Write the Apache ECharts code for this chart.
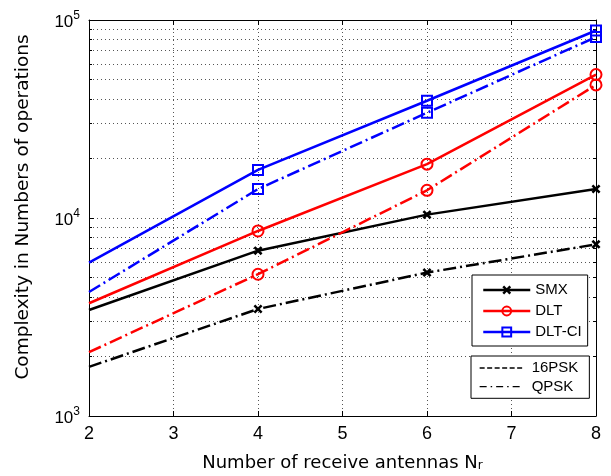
<!DOCTYPE html>
<html><head><meta charset="utf-8">
<script src="https://cdn.jsdelivr.net/npm/echarts@6/dist/echarts.min.js"></script>
<style>html,body{margin:0;padding:0;background:#fff}#c{width:611px;height:476px}</style>
</head><body><div id="c"></div>
<script>
// ---- data ----
const antennas = [2, 4, 6, 8];
const smx16 = [3430, 6840, 10400, 14000];
const smxQpsk = [1770, 3470, 5300, 7360];
const dlt16 = [3710, 8600, 18700, 53000];
const dltQpsk = [2100, 5200, 13800, 47000];
const dltci16 = [5950, 17500, 39100, 88500];
const dltciQpsk = [4230, 14000, 34000, 82000];
const xTicks = [2, 3, 4, 5, 6, 7, 8];
const yMinor = [2000, 3000, 4000, 5000, 6000, 7000, 8000, 9000, 10000,
                20000, 30000, 40000, 50000, 60000, 70000, 80000, 90000];
const schemeNames = ['SMX', 'DLT', 'DLT-CI'];
const modNames = ['16PSK', 'QPSK'];

const chart = echarts.init(document.getElementById('c'), null, {renderer: 'canvas'});
const SANS = 'Liberation Sans, Arial, Helvetica, sans-serif';
const TITLE = 'DejaVu Sans, sans-serif';
const GRID = {show: true, lineStyle: {color: '#555', width: 1, type: [1, 3]}};
const DASHDOT = [13, 4, 2, 4];
const X_PATH = 'path://M0,2L2,0L5,3L8,0L10,2L7,5L10,8L8,10L5,7L2,10L0,8L3,5Z';

function makeSeries(name, values, color, symbol, size, fill, dashed) {
  return {
    name: name, type: 'line', xAxisIndex: 0, yAxisIndex: 0,
    data: antennas.map((x, i) => ({value: [x, values[i]], symbol: i === 0 ? 'none' : symbol})),
    symbol: symbol, symbolSize: size, showSymbol: true, clip: false,
    silent: true, emphasis: {disabled: true}, animation: false,
    lineStyle: {color: color, width: 2.5, type: dashed ? DASHDOT : 'solid'},
    itemStyle: {color: fill, borderColor: color, borderWidth: fill === color ? 0 : 2}
  };
}
const clear = 'rgba(255,255,255,0)';
const series = [
  makeSeries(schemeNames[0], smx16, '#000000', X_PATH, 9, '#000000', false),
  makeSeries(schemeNames[1], dlt16, '#ff0000', 'circle', 11, clear, false),
  makeSeries(schemeNames[2], dltci16, '#0000ff', 'rect', 10, clear, false),
  makeSeries('SMX QPSK', smxQpsk, '#000000', X_PATH, 9, '#000000', true),
  makeSeries('DLT QPSK', dltQpsk, '#ff0000', 'circle', 11, clear, true),
  makeSeries('DLT-CI QPSK', dltciQpsk, '#0000ff', 'rect', 10, clear, true),
  {name: modNames[0], type: 'line', data: [], symbol: 'circle', symbolSize: 0,
   itemStyle: {color: 'rgba(0,0,0,0)', borderWidth: 0},
   lineStyle: {color: '#000', width: 1.3, type: [5, 2.5]}},
  {name: modNames[1], type: 'line', data: [], symbol: 'circle', symbolSize: 0,
   itemStyle: {color: 'rgba(0,0,0,0)', borderWidth: 0},
   lineStyle: {color: '#000', width: 1.3, type: [7, 4, 1.5, 4]}}
];

const option = {
  animation: false,
  backgroundColor: '#fff',
  grid: {left: 89, right: 15, top: 20, bottom: 60, outerBoundsMode: 'none'},
  xAxis: [{
    type: 'value', min: xTicks[0], max: xTicks[xTicks.length - 1], interval: 1,
    position: 'bottom',
    axisLine: {show: true, onZero: false, lineStyle: {color: '#000', width: 1}},
    axisTick: {show: true, inside: true, length: 5, lineStyle: {color: '#000'}},
    axisLabel: {show: true, color: '#000', fontFamily: SANS, fontSize: 18, margin: 9},
    splitLine: GRID,
    name: 'Number of receive antennas N{r|r}', nameLocation: 'middle', nameGap: 38,
    nameTextStyle: {color: '#000', fontFamily: TITLE, fontSize: 18, verticalAlign: 'top',
      padding: [0, 0, 4, 0],
      rich: {r: {fontFamily: TITLE, fontSize: 12, color: '#000', verticalAlign: 'bottom', padding: [0, 0, 0, 0]}}}
  }, {
    type: 'value', min: xTicks[0], max: xTicks[xTicks.length - 1], interval: 1,
    position: 'top',
    axisLine: {show: true, onZero: false, lineStyle: {color: '#000', width: 1}},
    axisTick: {show: true, inside: true, length: 5, lineStyle: {color: '#000'}},
    axisLabel: {show: false}, splitLine: {show: false}
  }],
  yAxis: [{
    type: 'log', logBase: 10, min: 1000, max: 100000, interval: 1, position: 'left',
    axisLine: {show: true, onZero: false, lineStyle: {color: '#000', width: 1}},
    axisTick: {show: true, inside: true, length: 5, lineStyle: {color: '#000'}},
    axisLabel: {
      show: true, color: '#000', margin: 9,
      formatter: v => '{b|10}{s|' + Math.round(Math.log10(v)) + '}',
      rich: {
        b: {fontFamily: SANS, fontSize: 17, color: '#000', verticalAlign: 'bottom'},
        s: {fontFamily: SANS, fontSize: 12, color: '#000', verticalAlign: 'bottom', padding: [0, 0, 9, 0]}
      }
    },
    splitLine: GRID,
    name: 'Complexity in Numbers of operations', nameLocation: 'middle', nameGap: 56,
    nameTextStyle: {color: '#000', fontFamily: TITLE, fontSize: 18.5, padding: [0, 0, 0, 22]}
  }, {
    type: 'log', logBase: 10, min: 1000, max: 100000, interval: 1, position: 'right',
    axisLine: {show: true, onZero: false, lineStyle: {color: '#000', width: 1}},
    axisTick: {show: true, inside: true, length: 3, customValues: yMinor, lineStyle: {color: '#000'}},
    axisLabel: {show: false},
    splitLine: GRID
  }, {
    type: 'log', logBase: 10, min: 1000, max: 100000, interval: 1, position: 'left',
    axisLine: {show: false},
    axisTick: {show: true, inside: true, length: 3, customValues: yMinor, lineStyle: {color: '#000'}},
    axisLabel: {show: false},
    splitLine: {show: false}
  }],
  legend: [{
    data: schemeNames, orient: 'vertical', left: 472, top: 275,
    itemWidth: 47, itemHeight: 11, itemGap: 6, padding: [7.5, 6, 6.5, 10],
    borderColor: '#000', borderWidth: 1, borderRadius: 0, backgroundColor: '#fff',
    selectedMode: false, lineStyle: {width: 2.5},
    textStyle: {color: '#000', fontFamily: SANS, fontSize: 15}
  }, {
    data: modNames, orient: 'vertical', left: 471, top: 356,
    itemWidth: 43, itemHeight: 10, itemGap: 3.6, padding: [4.5, 11, 4.2, 8],
    borderColor: '#000', borderWidth: 1, borderRadius: 0, backgroundColor: '#fff',
    selectedMode: false, lineStyle: {width: 1.3},
    textStyle: {color: '#000', fontFamily: SANS, fontSize: 15, padding: [0, 0, 0, 4]}
  }],
  series: series
};
chart.setOption(option);
</script></body></html>
